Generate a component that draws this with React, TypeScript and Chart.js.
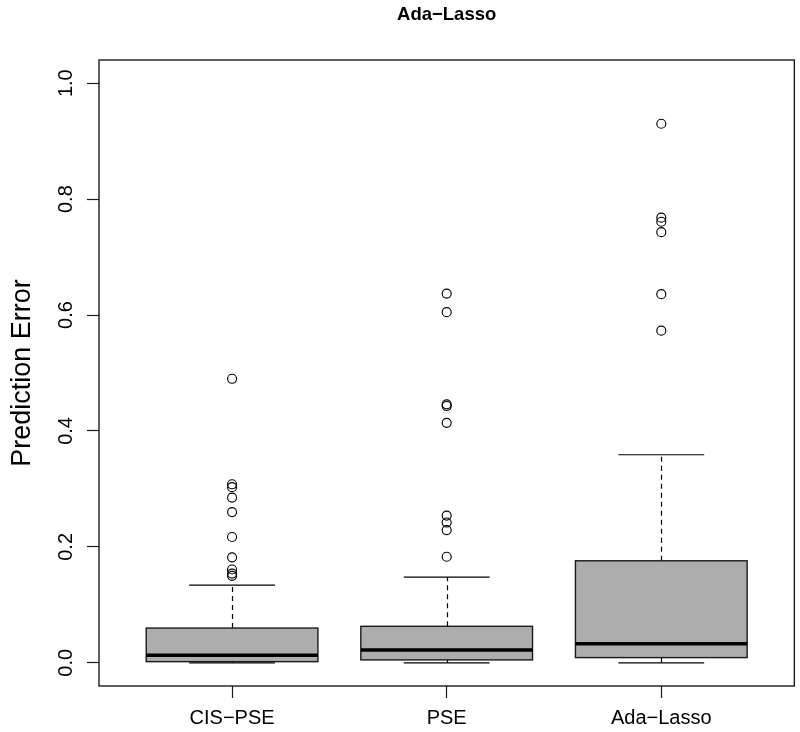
import React, { useEffect, useRef } from 'react';
import { Chart, registerables } from 'chart.js';

Chart.register(...registerables);

// ---------- data ----------
const plotTitle = 'Ada−Lasso';
const yAxisTitle = 'Prediction Error';
const categories = ['CIS−PSE', 'PSE', 'Ada−Lasso'];
const yTickValues = [0, 0.2, 0.4, 0.6, 0.8, 1.0];

const lowerWhisker = [0.0, 0.0, 0.0];
const q1 = [0.002, 0.005, 0.009];
const median = [0.013, 0.022, 0.033];
const q3 = [0.060, 0.063, 0.176];
const upperWhisker = [0.134, 0.148, 0.359];

const outliersCIS = [0.490, 0.308, 0.303, 0.285, 0.260, 0.217, 0.182, 0.161, 0.154, 0.150];
const outliersPSE = [0.637, 0.605, 0.446, 0.443, 0.414, 0.254, 0.242, 0.229, 0.183];
const outliersAda = [0.930, 0.768, 0.761, 0.743, 0.636, 0.573];
const outlierGroups = [outliersCIS, outliersPSE, outliersAda];

// ---------- style ----------
const FONT = '"Liberation Sans", Arial, Helvetica, sans-serif';
const BOX_FILL = '#adadad';
const BOX_HALF = 0.4;
const STAPLE_HALF = 0.2;

const boxPlugin = {
  id: 'boxes',
  beforeDatasetsDraw(chart: any) {
    const { ctx, scales } = chart;
    const x = scales.x;
    const y = scales.y;
    const line = (x1: number, y1: number, x2: number, y2: number) => {
      ctx.beginPath();
      ctx.moveTo(x1, y1);
      ctx.lineTo(x2, y2);
      ctx.stroke();
    };
    ctx.save();
    categories.forEach((_, i) => {
      const pos = i + 1;
      const cx = Math.round(x.getPixelForValue(pos)) + 0.5;
      const xl = x.getPixelForValue(pos - BOX_HALF);
      const xr = x.getPixelForValue(pos + BOX_HALF);
      const sl = x.getPixelForValue(pos - STAPLE_HALF);
      const sr = x.getPixelForValue(pos + STAPLE_HALF);
      const yLw = y.getPixelForValue(lowerWhisker[i]);
      const yQ1 = y.getPixelForValue(q1[i]);
      const yMed = y.getPixelForValue(median[i]);
      const yQ3 = y.getPixelForValue(q3[i]);
      const yUw = y.getPixelForValue(upperWhisker[i]);

      ctx.strokeStyle = '#000';
      ctx.lineWidth = 1.2;
      ctx.setLineDash([5, 4]);
      line(cx, yQ3, cx, yUw);
      line(cx, yQ1, cx, yLw);
      ctx.setLineDash([]);
      line(sl, yUw, sr, yUw);
      line(sl, yLw, sr, yLw);

      ctx.fillStyle = BOX_FILL;
      ctx.fillRect(xl, yQ3, xr - xl, yQ1 - yQ3);
      ctx.lineWidth = 1.4;
      ctx.strokeStyle = '#1a1a1a';
      ctx.strokeRect(xl, yQ3, xr - xl, yQ1 - yQ3);

      ctx.strokeStyle = '#000';
      ctx.lineWidth = 3.5;
      ctx.lineCap = 'butt';
      line(xl, yMed, xr, yMed);
      ctx.lineWidth = 1.2;
    });
    ctx.restore();
  },
};

const framePlugin = {
  id: 'frameAndTitle',
  afterDraw(chart: any) {
    const { ctx, chartArea } = chart;
    const { left, right, top, bottom } = chartArea;
    ctx.save();
    ctx.strokeStyle = '#1a1a1a';
    ctx.lineWidth = 1.4;
    ctx.strokeRect(left, top, right - left, bottom - top);
    ctx.fillStyle = '#000';
    ctx.font = `bold 18.5px ${FONT}`;
    ctx.textAlign = 'center';
    ctx.textBaseline = 'middle';
    ctx.fillText(plotTitle, (left + right) / 2, 15);
    ctx.restore();
  },
};

export default function App() {
  const canvasRef = useRef<HTMLCanvasElement | null>(null);

  useEffect(() => {
    if (!canvasRef.current) return;
    Chart.defaults.font.family = FONT;
    Chart.defaults.color = '#000';

    const datasets = outlierGroups.map((group, i) => ({
      label: categories[i],
      data: group.map((v) => ({ x: i + 1, y: v })),
      pointStyle: 'circle' as const,
      pointRadius: 4.5,
      pointBorderWidth: 1.15,
      pointBorderColor: '#000',
      pointBackgroundColor: 'rgba(0,0,0,0)',
      showLine: false,
    }));

    const chart = new Chart(canvasRef.current, {
      type: 'scatter',
      data: { datasets },
      plugins: [boxPlugin, framePlugin],
      options: {
        animation: false,
        responsive: false,
        events: [],
        layout: { padding: { top: 60, right: 4, left: 0, bottom: 0 } },
        plugins: {
          legend: { display: false },
          tooltip: { enabled: false },
          title: { display: false },
        },
        scales: {
          x: {
            type: 'linear',
            min: 0.38,
            max: 3.62,
            afterBuildTicks: (s: any) => {
              s.ticks = categories.map((_, i) => ({ value: i + 1 }));
            },
            afterFit: (s: any) => {
              s.height = 46;
            },
            ticks: {
              callback: (v: any) => categories[Math.round(Number(v)) - 1] ?? '',
              font: { size: 20, family: FONT },
              color: '#000',
              padding: 8,
              maxRotation: 0,
              minRotation: 0,
              autoSkip: false,
            },
            grid: {
              drawOnChartArea: false,
              drawTicks: true,
              tickLength: 12,
              color: '#1a1a1a',
              tickColor: '#1a1a1a',
              tickWidth: 1.2,
            },
            border: { display: false },
          },
          y: {
            type: 'linear',
            min: -0.04,
            max: 1.04,
            afterBuildTicks: (s: any) => {
              s.ticks = yTickValues.map((v) => ({ value: v }));
            },
            afterFit: (s: any) => {
              s.width = 99;
            },
            ticks: {
              callback: (v: any) => Number(v).toFixed(1),
              font: { size: 20, family: FONT },
              color: '#000',
              minRotation: 90,
              maxRotation: 90,
              crossAlign: 'center',
              padding: 7,
              autoSkip: false,
            },
            grid: {
              drawOnChartArea: false,
              drawTicks: true,
              tickLength: 12,
              color: '#1a1a1a',
              tickColor: '#1a1a1a',
              tickWidth: 1.2,
            },
            border: { display: false },
            title: {
              display: true,
              text: yAxisTitle,
              font: { size: 27, family: FONT },
              color: '#000',
              padding: { top: 6, bottom: 0 },
            },
          },
        },
      },
    });

    return () => chart.destroy();
  }, []);

  return (
    <div style={{ position: 'fixed', left: 0, top: 0, width: 800, height: 732, background: '#fff' }}>
      <canvas ref={canvasRef} width={800} height={732} style={{ display: 'block' }} />
    </div>
  );
}
